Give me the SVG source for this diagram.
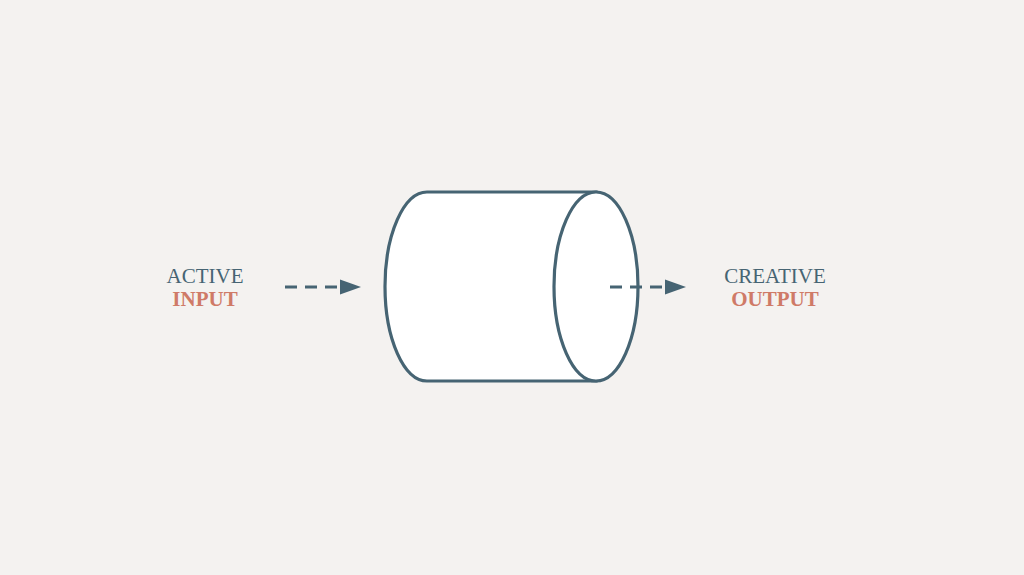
<svg xmlns="http://www.w3.org/2000/svg" width="1024" height="575" viewBox="0 0 1024 575">
<defs>
<style>
.dark{fill:#466473}
.orange{fill:#cf7a67;font-weight:bold}
.lbl{font-family:"Liberation Serif","DejaVu Serif",serif;font-size:21px;text-anchor:middle}
.shape{fill:#ffffff;stroke:#466473;stroke-width:3.2}
.conn{stroke:#466473;stroke-width:3;stroke-dasharray:12 8;fill:none}
</style>
</defs>
<rect width="1024" height="575" fill="#f4f2f0"/>
<g id="cylinder">
<path class="shape" d="M427,192 L596,192 L596,381 L427,381 A42,94.5 0 0 1 427,192 Z"/>
<ellipse class="shape" cx="596" cy="286.5" rx="42" ry="94.5"/>
</g>
<g id="input">
<text class="lbl dark" x="205" y="283">ACTIVE</text>
<text class="lbl orange" x="205" y="306">INPUT</text>
</g>
<g id="output">
<text class="lbl dark" x="775" y="283">CREATIVE</text>
<text class="lbl orange" x="775" y="306">OUTPUT</text>
</g>
<g id="connectors">
<path class="conn" d="M285,287 L341,287"/>
<path d="M340,279.5 L361,287 L340,294.5 z" fill="#466473"/>
<path class="conn" d="M610,287 L665,287"/>
<path d="M665,279.5 L686,287 L665,294.5 z" fill="#466473"/>
</g>
</svg>
